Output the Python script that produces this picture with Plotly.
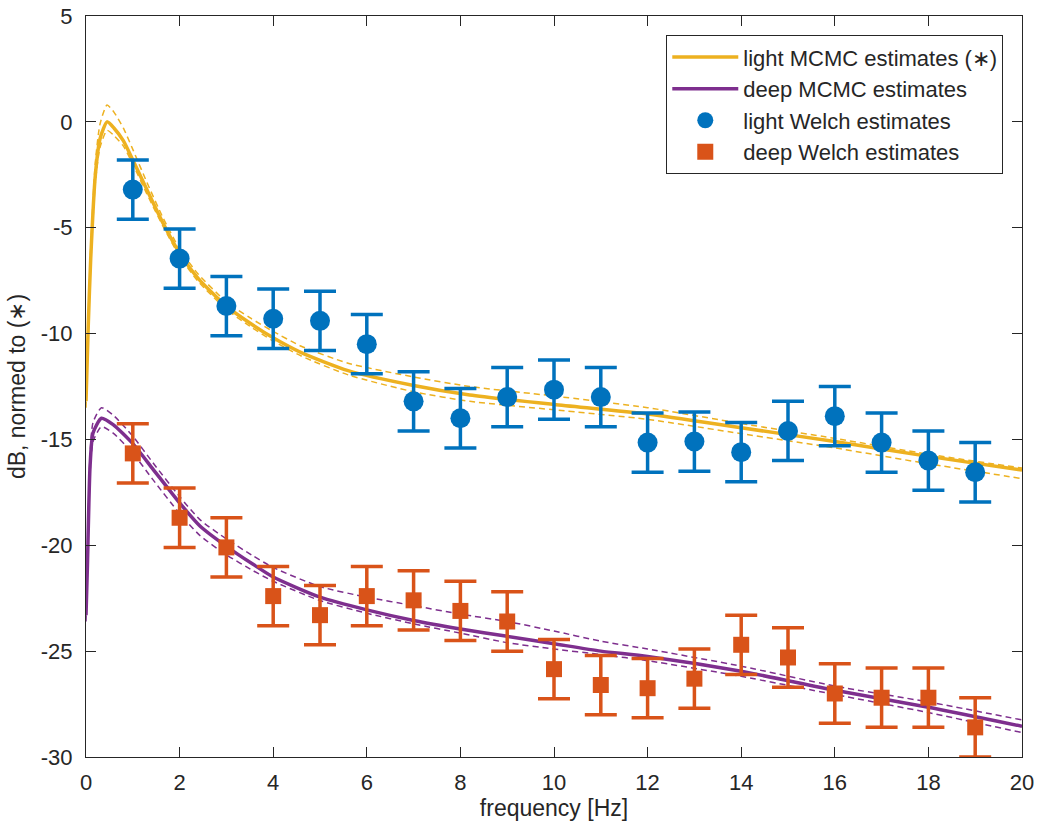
import plotly.graph_objects as go

# Welch estimates
welch_freq = list(range(1, 20))
light_welch = [-3.2, -6.46, -8.7, -9.3, -9.4, -10.5, -13.2, -14.0, -13.0, -12.65,
               -13.0, -15.15, -15.1, -15.6, -14.6, -13.9, -15.15, -16.0, -16.55]
light_err = [1.4] * 19
deep_welch = [-15.66, -18.7, -20.1, -22.4, -23.3, -22.4, -22.6, -23.1, -23.6, -25.85,
              -26.6, -26.75, -26.3, -24.7, -25.3, -27.0, -27.2, -27.2, -28.6]
deep_err = [1.4] * 19

# light MCMC curves (read at sample frequencies)
light_f = [0, 0.05, 0.1, 0.2, 0.3, 0.45, 0.6, 0.8, 1.0, 1.3, 1.65, 2.0, 2.4, 3.0, 3.5,
           4.0, 4.6, 5.6, 7.0, 8.2, 10, 12, 14, 16, 18, 20]
light_main = [-13.2, -9.5, -6.5, -2.5, -0.8, 0.0, -0.3, -0.9, -1.8, -3.2, -4.8, -6.2, -7.4,
              -8.7, -9.5, -10.2, -10.9, -11.75, -12.45, -12.9, -13.35, -13.8, -14.45, -15.1,
              -15.8, -16.45]
light_upper = [-12.9, -9.1, -6.0, -1.9, -0.1, 0.8, 0.45, -0.3, -1.3, -2.85, -4.55, -6.0, -7.2,
               -8.5, -9.25, -9.9, -10.6, -11.4, -12.05, -12.5, -12.95, -13.5, -14.25, -14.95,
               -15.7, -16.35]
light_lower = [-13.5, -9.8, -6.8, -2.85, -1.2, -0.4, -0.65, -1.15, -2.0, -3.4, -4.95, -6.35,
               -7.55, -8.85, -9.65, -10.35, -11.06, -11.95, -12.75, -13.2, -13.6, -14.05, -14.73,
               -15.4, -16.15, -16.85]

# deep MCMC curves
deep_f = [0, 0.03, 0.086, 0.15, 0.33, 0.58, 1.0, 1.43, 2.0, 2.44, 3.0, 3.57, 4.0, 5.0, 6.0,
          7.0, 8.0, 9.0, 10, 11, 12, 14, 16, 18, 20]
deep_main = [-23.3, -21.0, -16.3, -14.7, -14.0, -14.3, -15.2, -16.4, -18.0, -19.1, -20.05,
             -20.9, -21.5, -22.45, -23.05, -23.55, -23.95, -24.3, -24.65, -25.0, -25.25,
             -25.95, -26.85, -27.65, -28.55]
deep_upper = [-23.0, -20.6, -15.8, -14.2, -13.5, -13.85, -14.85, -16.1, -17.7, -18.8, -19.7,
              -20.5, -21.05, -21.95, -22.45, -22.85, -23.25, -23.6, -24.05, -24.53, -24.9,
              -25.71, -26.65, -27.4, -28.25]
deep_lower = [-23.6, -21.3, -16.6, -15.1, -14.4, -14.7, -15.65, -16.9, -18.5, -19.55, -20.45,
              -21.2, -21.7, -22.61, -23.21, -23.71, -24.15, -24.6, -24.9, -25.16, -25.45,
              -26.19, -27.05, -27.9, -28.85]

# axis ticks
x_ticks = list(range(0, 21, 2))
y_ticks = [-30, -25, -20, -15, -10, -5, 0, 5]
y_tick_text = ["-30", "-25", "-20", "-15", "-10", "-5", "0", "5"]

YEL = "#EDB120"
PUR = "#7E2F8E"
BLU = "#0072BD"
ORA = "#D95319"
AX = "#262626"
FONT = "Liberation Sans, Arial, sans-serif"

fig = go.Figure()

line_shape = dict(shape="spline", smoothing=0.6)

for f, ys, col in [(light_f, light_upper, YEL), (light_f, light_lower, YEL),
                   (deep_f, deep_upper, PUR), (deep_f, deep_lower, PUR)]:
    fig.add_trace(go.Scatter(x=f, y=ys, mode="lines", showlegend=False,
                             line=dict(color=col, width=1.5, dash="6px,4px", **line_shape),
                             hoverinfo="skip"))

fig.add_trace(go.Scatter(x=light_f, y=light_main, mode="lines",
                         name="light MCMC estimates (\u2217)",
                         line=dict(color=YEL, width=3.5, **line_shape)))
fig.add_trace(go.Scatter(x=deep_f, y=deep_main, mode="lines",
                         name="deep MCMC estimates",
                         line=dict(color=PUR, width=3.5, **line_shape)))
fig.add_trace(go.Scatter(x=welch_freq, y=light_welch, mode="markers",
                         name="light Welch estimates",
                         marker=dict(color=BLU, size=20, symbol="circle"),
                         error_y=dict(type="data", array=light_err, color=BLU,
                                      thickness=3.5, width=16)))
fig.add_trace(go.Scatter(x=welch_freq, y=deep_welch, mode="markers",
                         name="deep Welch estimates",
                         marker=dict(color=ORA, size=16, symbol="square"),
                         error_y=dict(type="data", array=deep_err, color=ORA,
                                      thickness=3.5, width=16)))

axis_common = dict(showline=True, linecolor=AX, linewidth=1, mirror="ticks",
                   ticks="inside", ticklen=10, tickcolor=AX, tickwidth=1,
                   showgrid=False, zeroline=False, automargin=False,
                   tickfont=dict(family=FONT, size=22, color=AX),
                   title_font=dict(family=FONT, size=23, color=AX))

fig.update_xaxes(range=[0, 20], tickmode="array", tickvals=x_ticks,
                 ticktext=[str(v) for v in x_ticks],
                 title_text="frequency [Hz]", title_standoff=2,
                 ticklabelstandoff=6, **axis_common)
fig.update_yaxes(range=[-30, 5], tickmode="array", tickvals=y_ticks,
                 ticktext=y_tick_text,
                 title_text="dB, normed to (\u2217)", title_standoff=8,
                 ticklabelstandoff=8, **axis_common)

fig.update_layout(
    width=1039, height=830,
    margin=dict(l=86, r=17, t=16, b=73),
    paper_bgcolor="white", plot_bgcolor="white",
    font=dict(family=FONT, size=22, color=AX),
    legend=dict(x=0.98, y=0.974, xanchor="right", yanchor="top",
                bgcolor="white", bordercolor=AX, borderwidth=1,
                font=dict(family=FONT, size=22, color=AX),
                itemwidth=66, tracegroupgap=0),
    showlegend=True,
)

fig.write_html("out.html")
